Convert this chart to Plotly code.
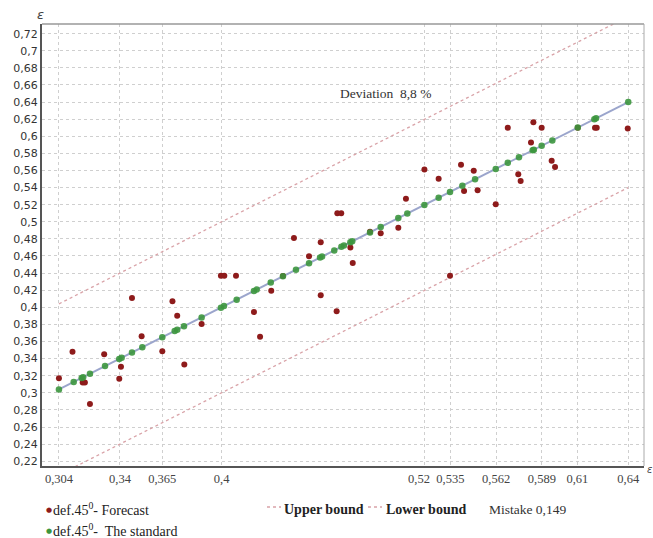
import plotly.graph_objects as go

# ---- data ----
forecast_x = [0.304, 0.312, 0.318, 0.3193, 0.3223, 0.3307, 0.3396, 0.3406, 0.3471, 0.3528,
              0.365, 0.371, 0.3738, 0.378, 0.3882, 0.3996, 0.4016, 0.4085, 0.4191, 0.4227,
              0.4293, 0.4362, 0.4427, 0.4516, 0.4585, 0.4585, 0.4679, 0.4683, 0.4706, 0.476,
              0.4774, 0.4876, 0.4939, 0.5043, 0.5088, 0.5197, 0.5281, 0.5348, 0.5413, 0.5431,
              0.5488, 0.5511, 0.5618, 0.5689, 0.5751, 0.5765, 0.5826, 0.584, 0.5889, 0.5948,
              0.5968, 0.6102, 0.6204, 0.6214, 0.6397]
forecast_y = [0.317, 0.348, 0.312, 0.312, 0.287, 0.345, 0.3165, 0.3305, 0.411, 0.366,
              0.3485, 0.407, 0.390, 0.333, 0.3805, 0.437, 0.437, 0.437, 0.3945, 0.3656,
              0.4194, 0.4366, 0.481, 0.4597, 0.476, 0.414, 0.3953, 0.510, 0.510, 0.470,
              0.4518, 0.4884, 0.4866, 0.4931, 0.527, 0.561, 0.5504, 0.437, 0.5667, 0.536,
              0.5598, 0.5368, 0.5205, 0.610, 0.5556, 0.5477, 0.5926, 0.6164, 0.610, 0.5715,
              0.5641, 0.610, 0.610, 0.610, 0.609]

standard_x = [0.304, 0.3127, 0.3174, 0.3183, 0.3223, 0.3312, 0.3396, 0.341, 0.3471, 0.3532,
              0.365, 0.3723, 0.3738, 0.3778, 0.3882, 0.3996, 0.4014, 0.4089, 0.4191, 0.4207,
              0.429, 0.4362, 0.4439, 0.4516, 0.4581, 0.4593, 0.4665, 0.4707, 0.4722, 0.476,
              0.4771, 0.4876, 0.4939, 0.5043, 0.5096, 0.5197, 0.5281, 0.5348, 0.5421, 0.5496,
              0.5618, 0.5689, 0.5755, 0.5836, 0.5843, 0.5889, 0.5952, 0.6102, 0.62, 0.621, 0.64]
standard_y = [0.304, 0.3127, 0.3174, 0.3183, 0.3223, 0.3312, 0.3396, 0.341, 0.3471, 0.3532,
              0.365, 0.3723, 0.3738, 0.3778, 0.3882, 0.3996, 0.4014, 0.4089, 0.4191, 0.4207,
              0.429, 0.4362, 0.4439, 0.4516, 0.4581, 0.4593, 0.4665, 0.4707, 0.4722, 0.476,
              0.4771, 0.4876, 0.4939, 0.5043, 0.5096, 0.5197, 0.5281, 0.5348, 0.5421, 0.5496,
              0.5618, 0.5689, 0.5755, 0.5836, 0.5843, 0.5889, 0.5952, 0.6102, 0.62, 0.621, 0.64]

line_x = [0.304, 0.64]
line_y = [0.304, 0.64]
upper_y = [0.404, 0.74]
lower_y = [0.204, 0.54]

x_ticks = [0.304, 0.34, 0.365, 0.4, 0.52, 0.535, 0.562, 0.589, 0.61, 0.64]
x_labels = ["0,304", "0,34", "0,365", "0,4", "0,52", "0,535", "0,562", "0,589", "0,61", "0,64"]
y_ticks = [0.22, 0.24, 0.26, 0.28, 0.30, 0.32, 0.34, 0.36, 0.38, 0.40, 0.42, 0.44, 0.46,
           0.48, 0.50, 0.52, 0.54, 0.56, 0.58, 0.60, 0.62, 0.64, 0.66, 0.68, 0.70, 0.72]
y_labels = ["0,22", "0,24", "0,26", "0,28", "0,3", "0,32", "0,34", "0,36", "0,38", "0,4",
            "0,42", "0,44", "0,46", "0,48", "0,5", "0,52", "0,54", "0,56", "0,58", "0,6",
            "0,62", "0,64", "0,66", "0,68", "0,7", "0,72"]

RED = "#8e1b1b"
GREEN = "#3c963e"
LINE = "#9ba5cc"
BOUND = "#d9a3a8"
SERIF = "Liberation Serif"
XFONT = dict(family=SERIF, size=12.5, color="#444444")

# the crowded "0,52" label is drawn slightly left of its gridline, as in the reference
shifted_tick = 0.52
axis_labels = ["" if v == shifted_tick else t for v, t in zip(x_ticks, x_labels)]
shifted_text = x_labels[x_ticks.index(shifted_tick)]

fig = go.Figure()
fig.add_trace(go.Scatter(x=line_x, y=upper_y, mode="lines",
                         line=dict(color=BOUND, width=1.3, dash="dot"), hoverinfo="skip"))
fig.add_trace(go.Scatter(x=line_x, y=lower_y, mode="lines",
                         line=dict(color=BOUND, width=1.3, dash="dot"), hoverinfo="skip"))
fig.add_trace(go.Scatter(x=line_x, y=line_y, mode="lines",
                         line=dict(color=LINE, width=2), hoverinfo="skip"))
fig.add_trace(go.Scatter(x=forecast_x, y=forecast_y, mode="markers",
                         marker=dict(color=RED, size=6), name="Forecast"))
fig.add_trace(go.Scatter(x=standard_x, y=standard_y, mode="markers",
                         marker=dict(color=GREEN, size=6.5, opacity=0.9), name="The standard"))

fig.update_layout(
    width=653, height=538,
    margin=dict(l=42, r=9, t=24, b=72),
    plot_bgcolor="white", paper_bgcolor="white",
    showlegend=False,
    xaxis=dict(range=[0.294, 0.6493], tickvals=x_ticks, ticktext=axis_labels, tickangle=0,
               showgrid=True, gridcolor="#cfcfcf", griddash="dot", gridwidth=1,
               zeroline=False, showline=True, linecolor="#555555", linewidth=2,
               ticks="", ticklen=0, tickfont=XFONT),
    yaxis=dict(range=[0.2144, 0.7313], tickvals=y_ticks, ticktext=y_labels,
               showgrid=True, gridcolor="#cfcfcf", griddash="dot", gridwidth=1,
               zeroline=False, showline=True, linecolor="#555555", linewidth=2,
               ticks="", ticklen=0,
               tickfont=dict(family="DejaVu Sans", size=11, color="#333333")),
)

def px(x):
    return (x - 42) / 602.0

def py(y):
    return (466 - y) / 442.0

# top and right border
fig.add_shape(type="line", xref="paper", yref="paper", x0=0, x1=1, y0=1, y1=1,
              line=dict(color="#999999", width=1.5))
fig.add_shape(type="line", xref="paper", yref="paper", x0=1, x1=1, y0=0, y1=1,
              line=dict(color="#aaaaaa", width=1))

ann = []
ann.append(dict(x=shifted_tick, xref="x", xshift=-6, y=py(479), text=shifted_text,
                xanchor="center", font=XFONT))
ann.append(dict(x=px(35), y=py(14), text="<i>ε</i>", font=dict(family="DejaVu Sans", size=13, color="#444")))
ann.append(dict(x=px(645), y=py(469), text="<i>ε</i>", xanchor="left",
                font=dict(family="DejaVu Sans", size=10, color="#444")))
ann.append(dict(x=0.497, y=0.6506, xref="x", yref="y", text="Deviation  8,8 %",
                font=dict(family=SERIF, size=13.5, color="#333")))
# legend
ann.append(dict(x=px(44), y=py(510), text="●", xanchor="left",
                font=dict(family="DejaVu Sans", size=7, color=RED)))
ann.append(dict(x=px(51), y=py(509), text="def.45<sup>0</sup>- Forecast", xanchor="left",
                font=dict(family=SERIF, size=14, color="#222")))
ann.append(dict(x=px(44), y=py(531), text="●", xanchor="left",
                font=dict(family="DejaVu Sans", size=7, color=GREEN)))
ann.append(dict(x=px(51), y=py(530), text="def.45<sup>0</sup>-  The standard", xanchor="left",
                font=dict(family=SERIF, size=14, color="#222")))
ann.append(dict(x=px(282), y=py(509), text="<b>Upper bound</b>", xanchor="left",
                font=dict(family=SERIF, size=14, color="#222")))
ann.append(dict(x=px(384), y=py(509), text="<b>Lower bound</b>", xanchor="left",
                font=dict(family=SERIF, size=14, color="#222")))
ann.append(dict(x=px(487), y=py(509), text="Mistake 0,149", xanchor="left",
                font=dict(family=SERIF, size=13.5, color="#333")))
for a in ann:
    a.setdefault("xref", "paper")
    a.setdefault("yref", "paper")
    a.setdefault("yanchor", "middle")
    a["showarrow"] = False
fig.update_layout(annotations=ann)

for x0 in (267, 368):
    fig.add_shape(type="line", xref="paper", yref="paper", x0=px(x0), x1=px(x0 + 14),
                  y0=py(507), y1=py(507), line=dict(color=BOUND, width=1.3, dash="dot"))

fig.write_html("out.html")
